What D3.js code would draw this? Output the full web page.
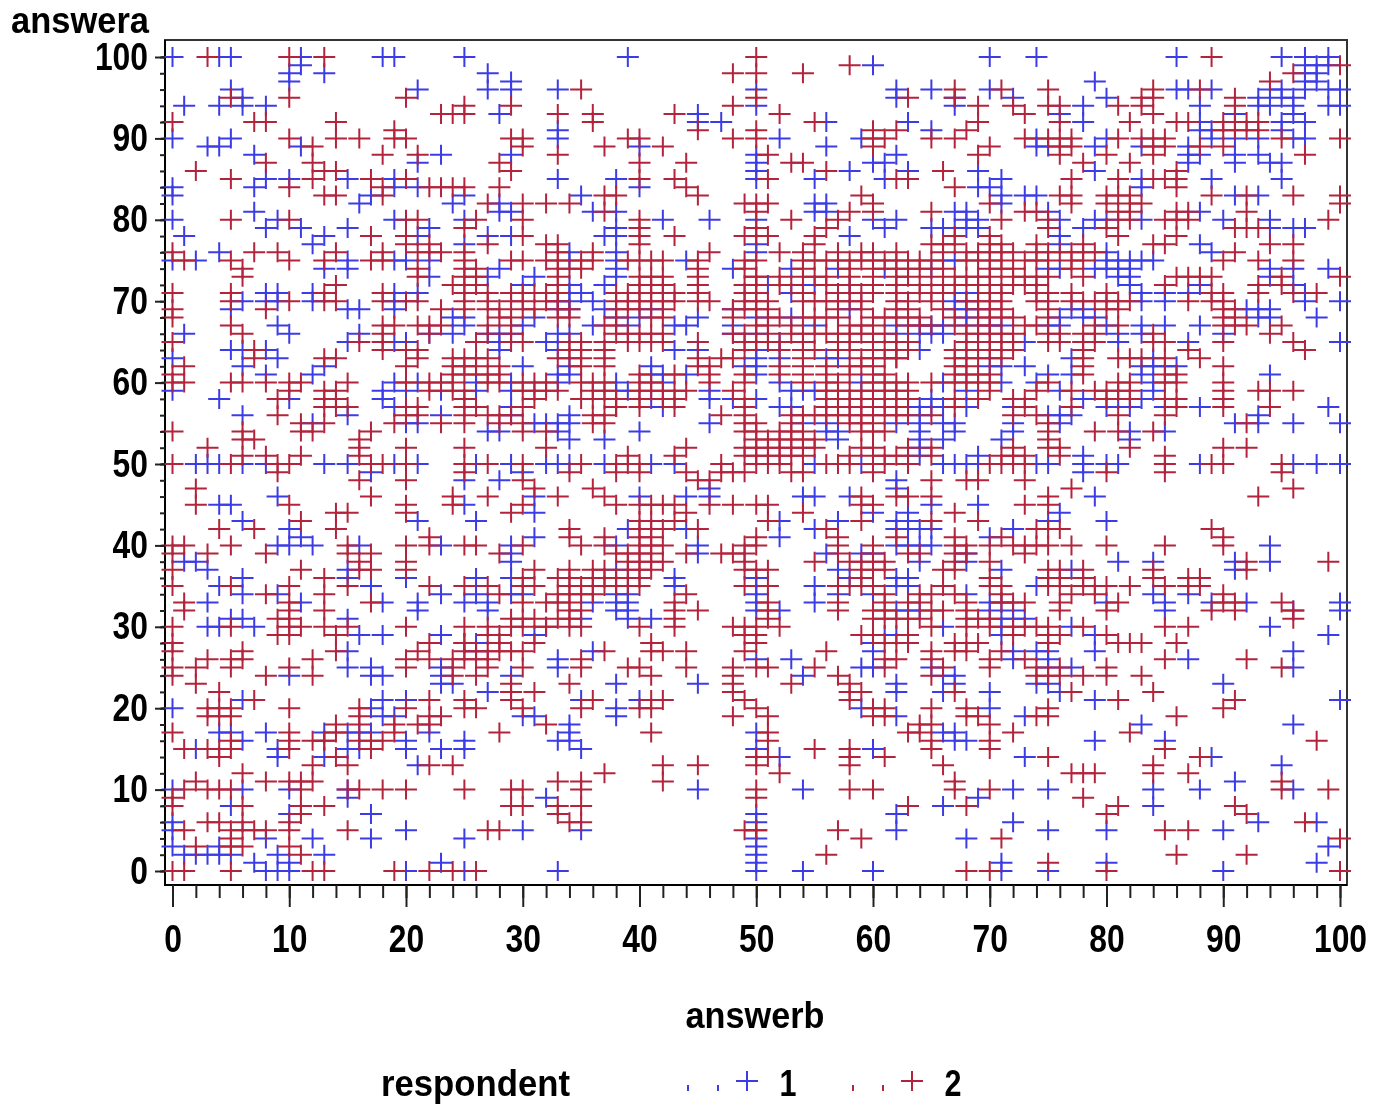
<!DOCTYPE html>
<html>
<head>
<meta charset="utf-8">
<script src="https://cdnjs.cloudflare.com/ajax/libs/d3/7.8.5/d3.min.js"></script>
<style>
html, body { margin: 0; padding: 0; background: #fff; overflow: hidden; }
svg { filter: blur(0.45px); }
text { font-family: "Liberation Sans", sans-serif; font-weight: bold; fill: #000; }
</style>
</head>
<body>
<script>
//rows of the plot: [answera, [answerb values]]
let respondent1 = [
[100,[0,4,5,11,18,19,25,39,70,74,86,95,97,99]],[99,[11,60,97,98,99]],[98,[10,13,27,97,98]],[97,[10,29,79,97,98]],
[96,[5,21,27,29,33,50,62,65,70,86,87,89,94,95,97,99,100]],[95,[6,62,67,72,80,93,95,96]],[94,[1,4,6,8,50,67,78,88,93,94,96,99,100]],
[93,[28,45,76,91,96]],[92,[45,47,56,63,78,88,95,97]],[91,[33,65,88,89,95]],[90,[0,5,33,52,59,74,80,89,91,93,96,97]],
[89,[3,4,11,40,56,74,75,79,83,87]],[88,[7,23,29,50,62,87,88,91,93]],[87,[21,50,60,61,87,91,94,95]],[86,[50,58,63,69,79]],
[85,[8,10,15,19,33,38,50,55,61,71,83,89,95]],[84,[0,7,19,21,40,69,70,83]],[83,[0,17,25,35,71,73,74,91,93]],[82,[16,24,28,55,56,71]],
[81,[7,28,29,36,38,55,56,67,68,75,88]],[80,[0,9,19,25,42,46,50,60,62,68,69,76,79,80,83,90,94]],[79,[8,11,15,22,38,61,65,66,67,68,69,78,94,96,97]],
[78,[1,13,21,27,29,37,38,58,76]],[77,[12,25,50,76,88]],[76,[4,34,38,50,80,89]],[75,[0,2,15,19,20,22,34,38,44,66,67,80,81,82,83,84]],
[74,[13,15,28,38,48,53,57,61,65,75,76,79,80,81,82,94,96,99]],[73,[22,27,31,38,50,81,82,94]],[72,[30,34,37,51,55,58,82,88,96]],[71,[8,9,12,19,21,34,35,53,60,67,69,83,85,87,97]],
[70,[6,8,9,12,19,33,34,36,67,68,83,85,97,100]],[69,[5,15,16,19,33,34,37,41,48,58,67,68,69,77,78,92,93,94]],
[68,[24,25,31,38,40,45,50,53,68,76,78,79,93,94,98]],[67,[9,25,30,36,39,43,44,48,55,62,64,65,66,68,70,71,75,76,80,83,85,88]],
[66,[1,10,16,22,24,27,28,29,33,34,48,50,62,64,65,66,81,83,90]],[65,[15,19,20,28,32,52,73,81,87,100]],[64,[5,6,8,28,33,43,45,50,64]],
[63,[0,9,50,52,56,57,62,77,84]],[62,[6,13,30,34,41,49,50,70,71,73,83,84,85,86]],[61,[8,12,26,33,34,41,42,44,50,75,77,83,94]],
[60,[19,21,26,29,33,38,42,52,59,66,71,74,84]],[59,[0,18,20,23,26,29,38,39,46,53,54,55,68,76,84]],[58,[4,10,18,41,46,48,50,65,78,81,83]],
[57,[19,29,38,42,52,53,63,64,65,66,68,72,80,82,85,88,99]],[56,[6,15,23,29,34,64,75,76,77,93]],[55,[12,20,21,31,32,33,34,46,54,56,62,64,66,67,72,76,91,93,96,100]],
[54,[27,28,33,40,56,57,64,67,72,82,85]],[53,[34,37,57,64,66,71,82]],[52,[64]],[51,[64,69,78]],
[50,[2,3,4,6,8,13,15,19,21,26,29,32,33,34,37,41,43,55,59,63,66,67,68,69,74,75,78,80,81,88,96,98,100]],[49,[17,30,78]],[48,[25,28,62]],[47,[46,62]],
[46,[9,31,40,44,46,54,55,58,79]],[45,[4,5,25,65,69]],[44,[31,60,63,76]],[43,[6,21,26,52,57,62,63,75,80]],[42,[10,39,44,55,62,63,64,65,72]],
[41,[11,31,52,70]],[40,[9,10,12,16,23,29,38,45,62,63,64,65,94]],[39,[29,45,56,59,60,68]],[38,[1,2,29,64,68,81,84,91,94]],[37,[3,15,38,57,71,77,91]],
[36,[6,15,20,26,29,43,50,58,62,63]],[35,[4,17,43,50,55,62,63,74]],[34,[6,9,23,26,29,30,38,39,50,57,60,68,84,87]],
[33,[3,11,18,21,25,27,36,38,39,50,55,70,71,80,85,89,92,100]],[32,[21,27,38,39,50,52,62,63,64,70,72,85,96,100]],[31,[5,6,15,35,39,41,71,72,73]],
[30,[3,4,7,32,66,71,77,94]],[29,[16,18,23,31,61,62,71,79,99]],[28,[25,26,60]],[27,[15,26,36,60,72,74,75,79,96]],[26,[33,50,53,72,75,87]],
[25,[15,17,23,33,59,60,65,75,77,96]],[24,[10,17,18,23,29,54,66,67]],[23,[23,24,38,45,62,67,74,75,90]],[22,[27,62,66,70,76]],[21,[6,18,20,35,40,79,100]],
[20,[0,17,38,59,70]],[19,[18,19,30,31,38,62,73]],[18,[34,83,96]],[17,[4,5,8,13,15,16,17,22,34,50,66,67]],[16,[6,13,20,25,33,34,67,68,79,85]],
[15,[2,9,15,16,20,23,25,35,50,60]],[14,[9,13,52,73,89]],[13,[21,95]],[11,[91]],[10,[0,6,10,15,45,54,72,75,84,88,96]],[9,[15,32,69]],[8,[5,66,84]],
[7,[10,17,50,62]],[6,[0,50,72,93,98]],[5,[0,20,30,35,50,62,75,80,90]],[4,[8,12,17,25,50,68]],[3,[0,4,50,99]],[2,[1,2,3,4,5,9,13,50]],[1,[7,10,23,50,71,80,98]],
[0,[8,9,10,20,25,33,50,54,60,71,75,90]]
];

let respondent2 = [
[100,[3,10,13,50,89]],[99,[58,100]],[98,[48,50,54,96]],[97,[94]],[96,[35,67,71,75,84,88]],[95,[5,10,20,50,63,67,83,84,91]],
[94,[25,29,48,69,72,75,76,81,83,91]],[93,[23,24,25,33,36,43,52,73,84]],[92,[0,7,8,14,36,55,69,76,82,86,87,90,91,92,93]],
[91,[19,45,50,60,62,68,90,91,92,93]],[90,[10,14,16,19,20,29,30,39,40,48,50,60,61,65,67,73,75,76,77,81,83,84,85,95,100]],
[89,[12,30,37,42,60,70,76,77,84,85,88,90]],[88,[18,21,33,51,69,76,80,84,97]],[87,[8,12,28,40,44,53,54,78,82]],[86,[2,13,14,29,56,66,86]],
[85,[5,12,17,20,40,43,51,62,63,77,81,84,85,86]],[84,[10,18,22,23,24,25,28,44,67,86]],[83,[13,14,18,37,38,45,59,76,77,80,81,82,89,92,96,100]],
[82,[27,30,32,34,49,50,51,60,70,77,80,82,83,100]],[81,[37,50,58,60,65,73,74,81,82,86,87,92]],[80,[5,10,20,21,26,30,40,53,57,71,75,81,82,85,86,87,99]],
[79,[25,40,50,56,75,80,91,92,93]],[78,[17,20,30,40,43,49,50,51,55,67,70,81,86]],[77,[20,22,27,32,33,40,55,65,66,67,70,71,74,78,84,85,94,96]],
[76,[0,7,9,14,18,21,22,23,25,33,36,46,52,54,57,59,60,62,66,68,69,70,71,72,74,75,76,77,78,79,91]],
[75,[1,5,10,13,17,18,25,29,30,32,33,35,36,39,40,41,42,45,49,50,54,55,56,57,58,59,60,61,62,63,64,65,68,69,70,71,73,74,75,77,78,90,93,96]],
[74,[6,21,25,26,33,34,35,45,49,54,58,60,62,63,64,66,70,71,72,77]],
[73,[6,21,25,26,33,40,41,42,45,50,52,54,55,56,58,60,62,63,65,67,68,69,70,72,73,74,75,78,86,87,88,89,95,100]],
[72,[14,24,25,26,33,40,41,42,45,49,50,52,53,56,58,60,62,64,66,67,68,69,70,71,72,73,74,85,93,95]],
[71,[0,5,13,18,25,27,29,30,31,32,33,38,39,40,41,42,43,45,49,50,54,57,58,59,60,62,64,65,66,70,71,74,75,77,80,89,90,93,96,98]],
[70,[5,10,13,14,18,20,21,25,27,29,30,32,33,38,39,40,41,42,43,45,46,49,50,51,54,55,56,57,58,59,62,63,65,68,69,70,71,74,75,77,78,79,80,81,82,87,89,90]],
[69,[0,8,23,25,27,28,30,31,33,34,38,39,40,42,48,49,50,51,57,59,62,63,66,69,70,71,75,80,81,90,91]],
[68,[0,28,29,33,34,38,41,42,48,51,52,54,55,56,57,60,61,62,63,64,67,69,70,71,72,75,90,91]],
[67,[5,18,19,21,22,23,27,29,37,38,50,51,53,58,59,60,63,64,65,67,69,70,73,74,79,81,90,91,92,95]],
[66,[6,18,22,27,29,38,39,40,41,42,48,49,51,53,54,55,56,57,58,59,60,61,68,69,70,71,72,75,76,78,79,84,94]],
[65,[0,16,18,26,29,30,34,35,37,39,40,41,42,45,49,50,51,52,54,57,58,60,62,63,68,69,70,71,72,75,76,78,79,84,85,90,96]],
[64,[7,18,20,21,34,35,37,49,52,54,55,57,58,60,61,62,63,67,68,70,71,72,78,87,97]],
[63,[7,13,14,21,24,25,26,27,33,34,35,37,45,47,48,54,59,60,61,62,67,68,69,70,71,78,81,82,83,85,88]],
[62,[1,20,24,25,26,28,35,37,45,46,52,54,56,58,59,60,67,68,78,90]],[61,[0,24,25,27,28,40,43,46,49,52,54,56,58,60,61,67,68,69,70,78,85,86]],
[60,[0,1,5,6,8,10,11,15,20,22,23,24,27,28,30,31,32,35,36,37,40,41,46,49,54,56,57,60,61,62,63,65,67,68,69,70,75,81,82,85,86,90]],
[59,[10,13,14,22,24,25,30,31,32,33,36,37,40,41,42,43,44,48,56,57,58,59,60,61,62,63,70,74,77,79,80,81,82,90,93,94,96]],
[58,[9,13,14,25,31,35,36,37,38,40,42,43,49,56,57,58,59,60,61,62,63,67,69,72,73,80,82,85,86,90]],
[57,[13,14,15,20,21,25,26,30,38,40,43,49,56,57,58,59,60,61,62,67,73,77,86,90,94]],
[56,[9,20,21,25,27,28,29,36,37,47,49,53,54,55,56,57,58,59,60,61,62,63,65,72,74,81,85]],
[55,[11,13,19,23,25,28,30,36,37,49,50,53,58,59,60,75,92]],[54,[0,6,11,12,17,30,32,49,50,52,53,54,59,60,61,75,79,81,84]],
[53,[6,7,16,50,51,52,53,54,55,75]],[52,[3,16,20,25,32,44,49,50,51,52,53,54,55,59,60,63,65,72,75,76,82,90,92]],
[51,[6,8,11,16,39,43,49,50,51,52,53,54,58,60,61,62,63,65,71,72,73,76,85]],
[50,[0,5,9,10,17,18,20,25,27,30,35,38,39,40,47,50,51,52,56,57,58,60,61,63,70,71,72,73,85,89,90,95]],
[49,[9,25,34,38,40,44,47,48,49,53,54,60,80,85,95]],[48,[16,20,30,45,46,65,68,69,73]],[47,[2,31,36,77,96]],[46,[17,24,27,33,37,59,62,63,65,75,93]],
[45,[2,10,20,24,30,38,40,41,42,43,46,48,50,51,59,60,73,75]],[44,[14,15,20,29,44,54,67]],[43,[11,40,41,43,51,59,65,69]],[42,[4,7,14,34,40,41,42,45,56,74,75,76,89]],
[41,[22,34,37,40,41,50,57,62,67,71,90]],[40,[0,1,5,15,20,22,25,26,30,35,37,40,41,42,49,50,57,60,67,68,70,72,73,74,75,77,80,85,90]],
[39,[0,3,8,15,17,28,38,39,40,41,44,47,48,49,57,60,63,64,67,68,73]],[38,[16,20,39,40,41,42,49,55,58,59,60,61,67,70,92,99]],
[37,[0,11,16,17,20,31,34,36,37,39,40,41,49,50,51,59,60,61,66,67,75,76,78,84,92]],[36,[13,30,33,34,36,37,38,39,40,59,70,75,76,78,84,87,88]],
[35,[0,5,10,15,22,25,27,30,31,34,35,36,37,38,39,40,49,51,57,58,59,60,66,70,71,75,76,78,79,80,82,85,87,88]],
[34,[8,13,28,33,34,35,36,44,61,64,65,67,71,77,79,90]],[33,[1,10,17,30,32,33,34,43,51,57,61,63,64,68,71,72,73,76,81,90,91,95]],
[32,[1,10,13,34,35,43,45,51,57,60,61,65,66,68,76,80,89,91,96]],[31,[9,10,29,30,31,33,34,43,51,60,61,62,63,64,68,69,70,96]],
[30,[0,5,10,11,13,15,20,25,27,29,30,32,34,35,40,43,48,49,50,52,65,68,70,72,73,74,75,78,85,87]],[29,[9,10,14,27,28,49,50,59,60,63,72,75,76,80]],
[28,[0,22,25,28,31,41,50,61,62,63,67,68,69,75,81,82,83,86]],[27,[0,6,14,21,25,26,27,28,29,30,37,41,42,44,49,56,65,67,68,71]],
[26,[3,5,6,12,20,22,24,25,26,27,35,61,62,65,70,73,85,92]],[25,[0,2,5,10,20,24,27,30,35,39,40,44,48,50,51,55,61,66,70,74,76,80,95]],
[24,[0,8,12,24,26,41,48,57,65,74,75,76,78,80,83]],[23,[2,29,34,48,53,58]],[22,[4,29,31,48,58,59,67,77,84]],[21,[7,22,25,29,36,41,42,49,58,81,91]],
[20,[3,4,5,10,16,20,25,26,30,35,40,41,50,60,61,65,68,75,90]],[19,[3,4,5,16,22,23,48,51,60,61,68,69,74,75,86]],[18,[14,16,19,21,22,32,64,65,70]],
[17,[0,10,14,19,28,41,51,63,64,72,82]],[16,[5,10,12,13,16,17,18,51,65,70,98]],[15,[1,3,4,5,10,17,55,58,65,70,85]],[14,[4,14,50,51,58,61,75,88]],
[13,[12,15,22,24,42,45,50,58,66,84]],[12,[6,37,52,77,78,79,84,87]],[11,[2,8,10,11,12,33,35,42,67,95]],
[10,[1,3,4,5,11,15,16,18,20,25,29,30,35,50,58,60,67,70,95,99]],[9,[0,50,78]],[8,[0,6,11,13,29,30,33,35,63,68,81,91]],[7,[11,33,80,92]],
[6,[3,4,6,10,34,35,97]],[5,[1,5,6,7,8,10,15,27,28,49,50,57,85,87]],[4,[5,59,71,100]],[3,[2,5,6,10]],[2,[11,56,86,92]],[1,[75]],
[0,[0,1,5,12,13,19,22,24,26,68,70,80,100]]
];

let majorTicks = d3.range(0, 101, 10);
let minorTicks = d3.range(0, 101, 2);
let legendLabels = ["1", "2"];

let blue = "#3c3ce6";
let red = "#b4233c";
let plusPath = "M-11,0H11M0,-10V10"; //the + marker

let svg = d3.select("body").append("svg")
	.attr("width", 1373)
	.attr("height", 1104);

let scaleX = d3.scaleLinear().domain([0, 100]).range([172.5, 1340]);
let scaleY = d3.scaleLinear().domain([0, 100]).range([871, 57]);

//the bold narrow look of the labels: squeeze the glyphs to the measured width
function squeeze(sel, width) {
	sel.attr("textLength", width).attr("lengthAdjust", "spacingAndGlyphs");
}

//frame
svg.append("rect")
	.attr("x", 165).attr("y", 40)
	.attr("width", 1182).attr("height", 845)
	.attr("fill", "none")
	.attr("stroke", "#333")
	.attr("stroke-width", 2);
svg.append("line").attr("x1", 165).attr("x2", 165).attr("y1", 40).attr("y2", 886).attr("stroke", "#000").attr("stroke-width", 2);
svg.append("line").attr("x1", 164).attr("x2", 1347).attr("y1", 885).attr("y2", 885).attr("stroke", "#000").attr("stroke-width", 2);

//marks, blue first so red sits on top
function drawSeries(rows, colour) {
	let points = rows.flatMap(r => r[1].map(b => ({a: r[0], b: b})));
	svg.append("g").selectAll("path")
		.data(points)
		.enter().append("path")
			.attr("d", plusPath)
			.attr("transform", d => `translate(${scaleX(d.b)}, ${scaleY(d.a)})`)
			.attr("fill", "none")
			.attr("stroke", colour)
			.attr("stroke-width", 2);
}
drawSeries(respondent1, blue);
drawSeries(respondent2, red);

//axes
function styleAxis(g) {
	g.select(".domain").remove();
	g.selectAll("line").attr("stroke", "#222").attr("stroke-width", 2);
}

svg.append("g").attr("transform", "translate(0, 885)")
	.call(d3.axisBottom(scaleX).tickValues(minorTicks).tickSize(13).tickFormat(""))
	.call(styleAxis).selectAll("text").remove();
svg.append("g").attr("transform", "translate(0, 885)")
	.call(d3.axisBottom(scaleX).tickValues(majorTicks).tickSize(22).tickPadding(18))
	.call(styleAxis)
	.selectAll("text")
		.attr("font-size", 38).attr("font-family", null)
		.attr("textLength", d => String(d).length * 17.7)
		.attr("lengthAdjust", "spacingAndGlyphs");

svg.append("g").attr("transform", "translate(165, 0)")
	.call(d3.axisLeft(scaleY).tickValues(minorTicks).tickSize(5).tickFormat(""))
	.call(styleAxis).selectAll("text").remove();
svg.append("g").attr("transform", "translate(165, 0)")
	.call(d3.axisLeft(scaleY).tickValues(majorTicks).tickSize(10).tickPadding(7))
	.call(styleAxis)
	.selectAll("text")
		.attr("font-size", 38).attr("font-family", null)
		.attr("textLength", d => String(d).length * 17.7)
		.attr("lengthAdjust", "spacingAndGlyphs");

//axis titles
svg.append("text").text("answera").attr("x", 80).attr("y", 33).attr("text-anchor", "middle").attr("font-size", 36).call(squeeze, 138);
svg.append("text").text("answerb").attr("x", 755).attr("y", 1028).attr("text-anchor", "middle").attr("font-size", 36).call(squeeze, 139);

//legend
svg.append("text").text("respondent").attr("x", 381).attr("y", 1096).attr("font-size", 36).call(squeeze, 189);

let legendX = d3.scaleOrdinal().domain(legendLabels).range([688, 853]);
let legendColour = d3.scaleOrdinal().domain(legendLabels).range([blue, red]);

legendLabels.forEach(function(label) {
	let x0 = legendX(label);
	let g = svg.append("g");
	[0, 30].forEach(function(dx) {
		g.append("line")
			.attr("x1", x0 + dx).attr("x2", x0 + dx)
			.attr("y1", 1085).attr("y2", 1091)
			.attr("stroke", legendColour(label))
			.attr("stroke-width", 2);
	});
	g.append("path")
		.attr("d", plusPath)
		.attr("transform", `translate(${x0 + 59}, 1081)`)
		.attr("fill", "none")
		.attr("stroke", legendColour(label))
		.attr("stroke-width", 2);
	svg.append("text").text(label)
		.attr("x", x0 + 100).attr("y", 1096)
		.attr("text-anchor", "middle")
		.attr("font-size", 36)
		.call(squeeze, 17);
});
</script>
</body>
</html>
